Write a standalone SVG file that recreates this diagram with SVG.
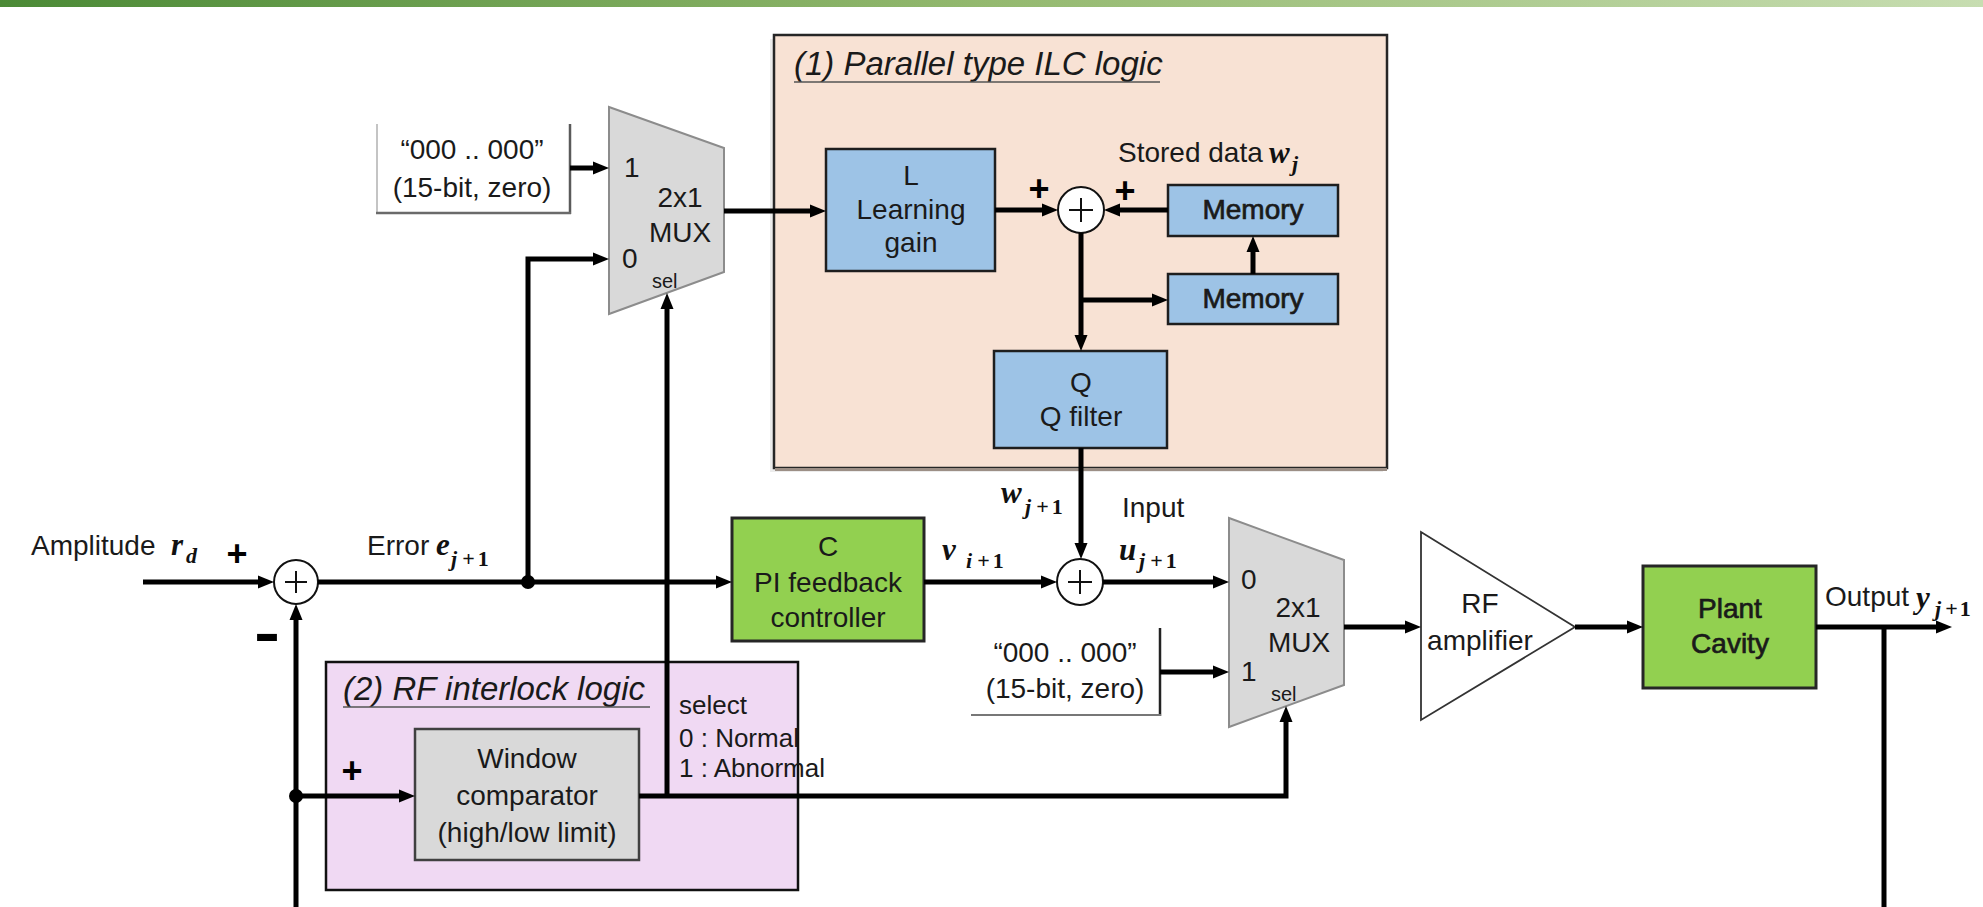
<svg xmlns="http://www.w3.org/2000/svg" width="1983" height="907" viewBox="0 0 1983 907">
  <defs>
    <linearGradient id="topbar" x1="0" y1="0" x2="1" y2="0">
      <stop offset="0" stop-color="#4b8a36"/>
      <stop offset="0.5" stop-color="#94b96f"/>
      <stop offset="1" stop-color="#c7ddb1"/>
    </linearGradient>
    <marker id="arr" markerUnits="userSpaceOnUse" markerWidth="17" markerHeight="14" refX="6" refY="7" orient="auto">
      <path d="M0,0.5 L16,7 L0,13.5 z" fill="#000"/>
    </marker>
    <style>
      .t { font-family: "Liberation Sans", Arial, sans-serif; font-size: 28px; fill: #1a1a1a; }
      .c { text-anchor: middle; }
      .sm { font-size: 26px; }
      .tiny { font-size: 20px; }
      .title { font-family: "Liberation Sans", Arial, sans-serif; font-size: 33px; font-style: italic; fill: #1a1a1a; }
      .heavy { stroke: #1a1a1a; stroke-width: 0.7px; }
      .m { font-family: "Liberation Serif", "Times New Roman", serif; font-style: italic; font-weight: bold; font-size: 31px; fill: #111; }
      .sub { font-family: "Liberation Serif", "Times New Roman", serif; font-size: 22px; font-weight: bold; fill: #111; }
      .sign { font-family: "Liberation Sans", Arial, sans-serif; font-weight: bold; font-size: 36px; fill: #000; text-anchor: middle; }
      .wire { fill: none; stroke: #000; stroke-width: 5; stroke-linejoin: miter; }
      .arrow { marker-end: url(#arr); }
      .blue { fill: #9dc3e6; stroke: #1e1e1e; stroke-width: 2.5; }
      .green { fill: #92d050; stroke: #262626; stroke-width: 3; }
      .grey { fill: #d9d9d9; stroke: #404040; stroke-width: 2.5; }
      .mux { fill: #d9d9d9; stroke: #8c8c8c; stroke-width: 2; }
      .sum { fill: #fff; stroke: #111; stroke-width: 2; }
      .cross { stroke: #111; stroke-width: 2; }
      .dot { fill: #000; }
    </style>
  </defs>

  <rect x="0" y="0" width="1983" height="907" fill="#fff"/>
  <rect x="0" y="0" width="1983" height="7" fill="url(#topbar)"/>

  <!-- region (1): parallel ILC logic -->
  <g id="ilc-region">
    <rect x="770" y="39" width="613" height="433" fill="#ececec"/>
    <rect x="774" y="35" width="613" height="433" fill="#f8e2d4" stroke="#262626" stroke-width="2.5"/>
    <line x1="775" y1="469.5" x2="1387" y2="469.5" stroke="#9c8f86" stroke-width="3"/>
    <text class="title" x="794" y="75">(1) Parallel type ILC logic</text>
    <line x1="794" y1="82" x2="1160" y2="82" stroke="#555" stroke-width="1.5"/>
  </g>

  <!-- region (2): RF interlock logic -->
  <g id="interlock-region">
    <rect x="326" y="662" width="472" height="228" fill="#f0d9f3" stroke="#111" stroke-width="2.5"/>
    <text class="title" x="343" y="700">(2) RF interlock logic</text>
    <line x1="343" y1="707" x2="650" y2="707" stroke="#555" stroke-width="1.5"/>
  </g>

  <!-- constant zero inputs -->
  <g id="zero-a">
    <rect x="377" y="124" width="193" height="89" fill="#fff"/>
    <line x1="377" y1="124" x2="377" y2="213" stroke="#b0b0b0" stroke-width="1.5"/>
    <line x1="570" y1="124" x2="570" y2="214" stroke="#5a5a5a" stroke-width="2.5"/>
    <line x1="376" y1="213" x2="571" y2="213" stroke="#6a6a6a" stroke-width="2.5"/>
    <text class="t c" x="472" y="159">“000 .. 000”</text>
    <text class="t c" x="472" y="197">(15-bit, zero)</text>
  </g>

  <g id="zero-b">
    <line x1="1160" y1="628" x2="1160" y2="716" stroke="#222" stroke-width="2.5"/>
    <line x1="971" y1="715" x2="1161" y2="715" stroke="#777" stroke-width="2"/>
    <text class="t c" x="1065" y="662">“000 .. 000”</text>
    <text class="t c" x="1065" y="698">(15-bit, zero)</text>
  </g>

  <!-- multiplexers -->
  <g id="mux-a">
    <polygon class="mux" points="609,107 724,148 724,272 609,314"/>
    <text class="t" x="624" y="177">1</text>
    <text class="t" x="622" y="268">0</text>
    <text class="t c" x="680" y="207">2x1</text>
    <text class="t c" x="680" y="242">MUX</text>
    <text class="t tiny" x="652" y="288">sel</text>
  </g>

  <g id="mux-b">
    <polygon class="mux" points="1229,518 1344,560 1344,685 1229,727"/>
    <text class="t" x="1241" y="589">0</text>
    <text class="t" x="1241" y="681">1</text>
    <text class="t c" x="1298" y="617">2x1</text>
    <text class="t c" x="1299" y="652">MUX</text>
    <text class="t tiny" x="1271" y="701">sel</text>
  </g>

  <!-- ILC blocks -->
  <g id="learning-gain">
    <rect class="blue" x="826" y="149" width="169" height="122"/>
    <text class="t c" x="911" y="185">L</text>
    <text class="t c" x="911" y="219">Learning</text>
    <text class="t c" x="911" y="252">gain</text>
  </g>

  <g id="memory-a">
    <rect class="blue" x="1168" y="185" width="170" height="51" stroke-width="3"/>
    <text class="t c heavy" x="1253" y="219">Memory</text>
  </g>

  <g id="memory-b">
    <rect class="blue" x="1168" y="274" width="170" height="50"/>
    <text class="t c heavy" x="1253" y="308">Memory</text>
  </g>

  <g id="q-filter">
    <rect class="blue" x="994" y="351" width="173" height="97"/>
    <text class="t c" x="1081" y="392">Q</text>
    <text class="t c" x="1081" y="426">Q filter</text>
  </g>

  <g id="sum-ilc">
    <circle class="sum" cx="1081" cy="210" r="23"/>
    <line class="cross" x1="1069" y1="210" x2="1093" y2="210"/>
    <line class="cross" x1="1081" y1="198" x2="1081" y2="222"/>
    <text class="sign" x="1039" y="201">+</text>
    <text class="sign" x="1125" y="203">+</text>
  </g>

  <!-- feedback path blocks -->
  <g id="sum-error">
    <circle class="sum" cx="296" cy="582" r="22"/>
    <line class="cross" x1="285" y1="582" x2="307" y2="582" stroke="#8a8a8a"/>
    <line class="cross" x1="296" y1="571" x2="296" y2="593" stroke="#8a8a8a"/>
    <text class="sign" x="237" y="566">+</text>
    <text class="sign" x="267" y="648" font-size="44" transform="translate(267 634) scale(1.1 1.8) translate(-267 -634)">−</text>
  </g>

  <g id="pi-controller">
    <rect class="green" x="732" y="518" width="192" height="123"/>
    <text class="t c" x="828" y="556">C</text>
    <text class="t c" x="828" y="592">PI feedback</text>
    <text class="t c" x="828" y="627">controller</text>
  </g>

  <g id="sum-input">
    <circle class="sum" cx="1080" cy="582" r="23"/>
    <line class="cross" x1="1068" y1="582" x2="1092" y2="582"/>
    <line class="cross" x1="1080" y1="570" x2="1080" y2="594"/>
  </g>

  <g id="window-comparator">
    <rect class="grey" x="415" y="729" width="224" height="131"/>
    <text class="t c" x="527" y="768">Window</text>
    <text class="t c" x="527" y="805">comparator</text>
    <text class="t c" x="527" y="842">(high/low limit)</text>
    <text class="sign" x="352" y="783">+</text>
  </g>

  <g id="rf-amplifier">
    <polygon points="1421,532 1575,627 1421,720" fill="#fff" stroke="#333" stroke-width="1.8"/>
    <text class="t c" x="1480" y="613">RF</text>
    <text class="t c" x="1480" y="650">amplifier</text>
  </g>

  <g id="plant-cavity">
    <rect class="green" x="1643" y="566" width="173" height="122"/>
    <text class="t c heavy" x="1730" y="618">Plant</text>
    <text class="t c heavy" x="1730" y="653">Cavity</text>
  </g>

  <!-- signal wiring -->
  <g id="connectors">
    <path class="wire arrow" d="M143,582 H264"/>
    <path class="wire arrow" d="M296,907 V614"/>
    <path class="wire arrow" d="M318,582 H722"/>
    <path class="wire arrow" d="M528,582 V259 H599"/>
    <path class="wire arrow" d="M570,168 H599"/>
    <path class="wire arrow" d="M724,211 H816"/>
    <path class="wire arrow" d="M995,210 H1048"/>
    <path class="wire arrow" d="M1168,210 H1114"/>
    <path class="wire arrow" d="M1081,233 V341"/>
    <path class="wire arrow" d="M1081,300 H1158"/>
    <path class="wire arrow" d="M1253,274 V246"/>
    <path class="wire arrow" d="M1081,448 V549"/>
    <path class="wire arrow" d="M924,582 H1047"/>
    <path class="wire arrow" d="M1103,582 H1219"/>
    <path class="wire arrow" d="M1160,672 H1219"/>
    <path class="wire arrow" d="M296,796 H405"/>
    <path class="wire arrow" d="M639,796 H1286 V716"/>
    <path class="wire arrow" d="M667,796 V303"/>
    <path class="wire arrow" d="M1344,627 H1411"/>
    <path class="wire arrow" d="M1575,627 H1633"/>
    <path class="wire arrow" d="M1816,627 H1942"/>
    <path class="wire" d="M1884,627 V907"/>
    <circle class="dot" cx="528" cy="582" r="7"/>
    <circle class="dot" cx="296" cy="796" r="7"/>
  </g>

  <!-- signal labels -->
  <g id="signal-labels">
    <text class="t" x="31" y="555">Amplitude</text>
    <text class="m" x="171" y="555">r</text>
    <text class="sub" x="186" y="563" font-style="italic">d</text>

    <text class="t" x="367" y="555">Error</text>
    <text class="m" x="436" y="555">e</text>
    <text class="sub" x="451" y="566"><tspan font-style="italic">j</tspan><tspan dx="5">+</tspan><tspan dx="3">1</tspan></text>

    <text class="m" x="942" y="560">v</text>
    <text class="sub" x="966" y="568"><tspan font-style="italic">i</tspan><tspan dx="5">+</tspan><tspan dx="3">1</tspan></text>

    <text class="m" x="1001" y="503">w</text>
    <text class="sub" x="1025" y="514"><tspan font-style="italic">j</tspan><tspan dx="5">+</tspan><tspan dx="3">1</tspan></text>

    <text class="t" x="1122" y="517">Input</text>
    <text class="m" x="1119" y="560">u</text>
    <text class="sub" x="1139" y="568"><tspan font-style="italic">j</tspan><tspan dx="5">+</tspan><tspan dx="3">1</tspan></text>

    <text class="t" x="1118" y="162">Stored data</text>
    <text class="m" x="1269" y="163">w</text>
    <text class="sub" x="1292" y="171" font-style="italic">j</text>

    <text class="t sm" x="679" y="714">select</text>
    <text class="t sm" x="679" y="747">0 : Normal</text>
    <text class="t sm" x="679" y="777">1 : Abnormal</text>

    <text class="t" x="1825" y="606">Output</text>
    <text class="m" x="1916" y="608">y</text>
    <text class="sub" x="1935" y="616"><tspan font-style="italic">j</tspan><tspan dx="4">+</tspan><tspan dx="2">1</tspan></text>
  </g>
</svg>
